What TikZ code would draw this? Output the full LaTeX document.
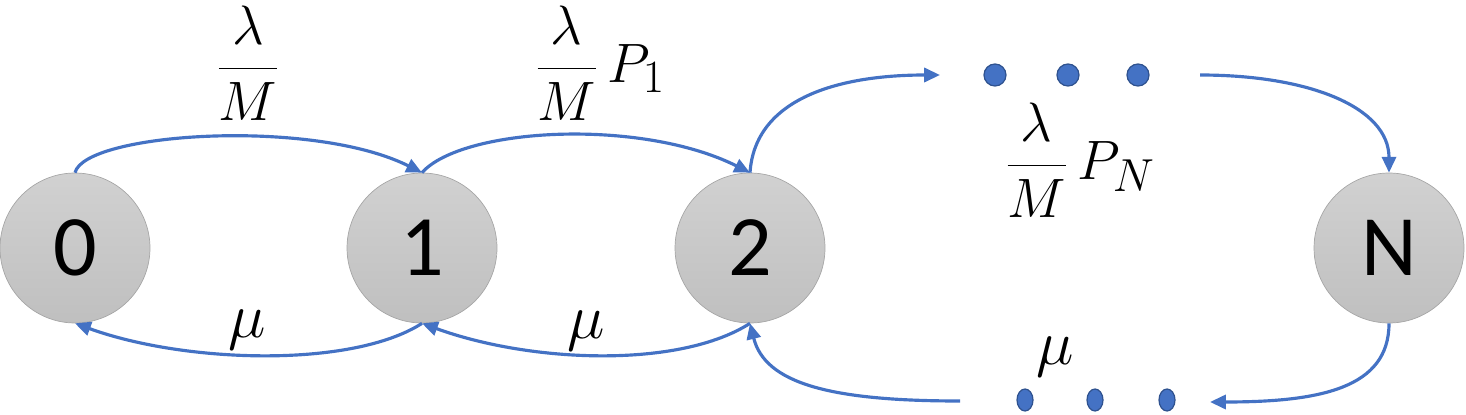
\documentclass[tikz,border=0pt]{standalone}
\usepackage{fontspec}
\newfontfamily\statefont{Carlito}
\usetikzlibrary{arrows.meta}
\definecolor{linkblue}{HTML}{4472C4}
\definecolor{dotedge}{HTML}{2F528F}
\tikzset{
	state/.style={circle, minimum size=3cm, inner sep=0pt, draw=black!35, top color=black!18, bottom color=black!25, font=\statefont\fontsize{49}{50}\selectfont},
	link/.style={draw=linkblue, line width=1.8pt, -{Triangle[length=9pt,width=8pt]}},
	dot/.style={fill=linkblue, draw=dotedge, line width=0.7pt},
	rate/.style={font=\fontsize{24.88}{30}\selectfont, scale=1.27, transform shape},
	back/.style={font=\fontsize{24.88}{30}\selectfont, scale=1.45, transform shape}
}
\begin{document}
\begin{tikzpicture}[x=0.02cm, y=-0.02cm]
		\useasboundingbox (0,0) rectangle (1466,415);

		\node[state] (n0) at (75,248) {0};
		\node[state] (n1) at (422,248) {1};
		\node[state] (n2) at (750,248) {2};
		\node[state] (nN) at (1389,248) {N};

		\coordinate (tin) at (940,75);
		\coordinate (tout) at (1200,75);
		\coordinate (bin) at (1210,402);
		\coordinate (bout) at (960,401);

		\draw[dot] (995,75) circle (11);
		\draw[dot] (1068,75) circle (11);
		\draw[dot] (1138,75) circle (11);

		\draw[dot] (1025,400) ellipse (8 and 11);
		\draw[dot] (1095,400) ellipse (8 and 11);
		\draw[dot] (1167,400) ellipse (8 and 11);

		\draw[link] (n0.north) .. controls +(10,-40) and +(-110,-55) .. (n1.north);
		\draw[link] (n1.north) .. controls +(40,-45) and +(-110,-55) .. (n2.north);
		\draw[link] (n2.north) .. controls +(5,-75) and +(-100,0) .. (tin);
		\draw[link] (tout) .. controls +(110,0) and +(0,-65) .. (nN.north);

		\draw[link] (nN.south) .. controls +(0,65) and +(110,0) .. (bin);
		\draw[link] (bout) .. controls +(-130,0) and +(15,60) .. (n2.south);
		\draw[link] (n2.south) .. controls +(-70,45) and +(110,40) .. (n1.south);
		\draw[link] (n1.south) .. controls +(-70,45) and +(110,40) .. (n0.south);

		\node[rate] (r01) at (248,63) {$\displaystyle\frac{\lambda}{M}$};
		\node[rate] (r12) at (600,63) {$\displaystyle\frac{\lambda}{M}\,P_1$};
		\node[rate] (r2N) at (1080,160) {$\displaystyle\frac{\lambda}{M}\,P_N$};

		\node[back] (m10) at (247,330) {$\mu$};
		\node[back] (m21) at (586,331) {$\mu$};
		\node[back] (mN2) at (1055,357) {$\mu$};
\end{tikzpicture}
\end{document}
